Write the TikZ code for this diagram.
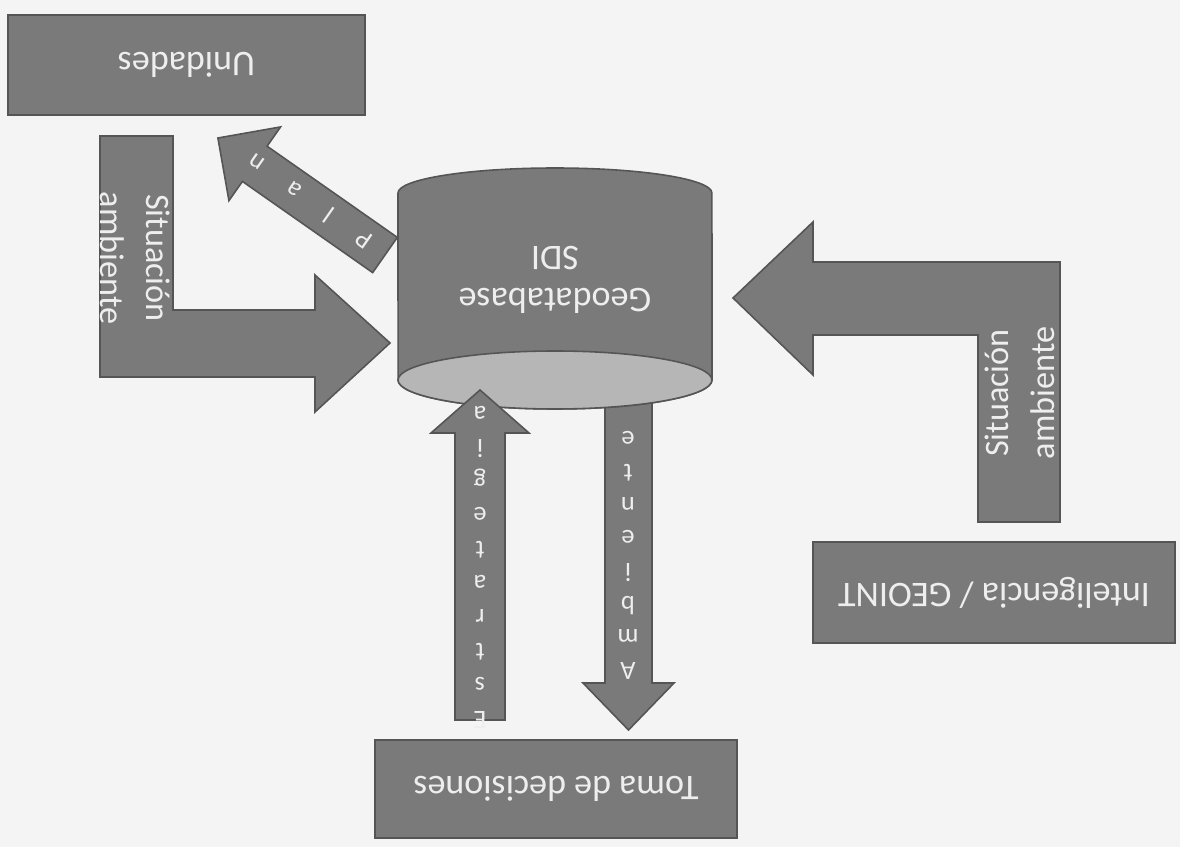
\documentclass[tikz,border=0pt]{standalone}
\usepackage{fontspec}
\setmainfont{Carlito}
\usepackage{xcolor}
\usetikzlibrary{calc}
\definecolor{paper}{HTML}{F4F4F4}
\definecolor{boxgray}{HTML}{7A7A7A}
\definecolor{edgegray}{HTML}{555555}
\definecolor{facegray}{HTML}{B6B6B6}
\definecolor{txtwhite}{HTML}{EEEEEE}

\begin{document}
\begin{tikzpicture}[x=0.02cm,y=0.02cm,
	  every node/.style={align=center,text=txtwhite,draw=none,inner sep=0pt},
	  box/.style={draw=edgegray,line width=0.9pt,fill=boxgray,rotate=180,font=\fontsize{20.5}{25}\selectfont},
	  flecha/.style={draw=edgegray,line width=0.9pt,fill=boxgray},
	  rotulo/.style={font=\fontsize{19.5}{26}\selectfont},
	  letras/.style={rotate=180,font=\fontsize{15}{19.3}\selectfont}]

	  % page
	  \fill[paper] (0,0) rectangle (1180,-847);
	  \useasboundingbox (0,0) rectangle (1180,-847);

	  % boxes
	  \node[box,minimum width=7.14cm,minimum height=2cm] (unidades) at (186.5,-65) {Unidades};
	  \node[box,minimum width=7.24cm,minimum height=1.96cm] (toma) at (556,-789) {Toma de decisiones};
	  \node[box,minimum width=7.24cm,minimum height=2.02cm] (intel) at (994,-592.5) {Inteligencia / GEOINT};

	  % bent arrows
	  \draw[flecha] (100,-136) -- (173,-136) -- (173,-310) -- (315,-310) -- (315,-275) -- (390,-343)
	    -- (315,-412) -- (315,-377) -- (100,-377) -- cycle;
	  \node[rotulo,rotate=-90] (sitizq) at (135,-258) {Situación\\ambiente};
	  \draw[flecha] (1060,-522) -- (978,-522) -- (978,-335) -- (813,-335) -- (813,-375) -- (733,-298)
	    -- (813,-222) -- (813,-262) -- (1060,-262) -- cycle;
	  \node[rotulo,rotate=90] (sitder) at (1020,-393) {Situación\\ambiente};

	  % Ambiente
	  \draw[flecha] (605,-400) -- (652,-400) -- (652,-683) -- (674,-683) -- (628.5,-730) -- (583,-683) -- (605,-683) -- cycle;

	  % Plan
	  \begin{scope}[shift={(385,-255)},rotate=145]
	    \draw[flecha] (0,-21.5) -- (159,-21.5) -- (159,-45) -- (204,0) -- (159,45) -- (159,21.5) -- (0,21.5) -- cycle;
	    \node[rotate=145,font=\fontsize{15}{18}\selectfont] (plan) at (92,0) {P\hspace{19pt}l\hspace{19pt}a\hspace{19pt}n};
	  \end{scope}

	  % SDI
	  \draw[flecha] (398,-193) arc[start angle=180,end angle=0,x radius=3.14cm,y radius=0.5cm]
	    -- (712,-380) arc[start angle=0,end angle=-180,x radius=3.14cm,y radius=0.58cm] -- cycle;
	  \draw[edgegray,line width=0.9pt,fill=facegray] (555,-380) ellipse [x radius=3.14cm,y radius=0.58cm];
	  \node[rotate=180,font=\fontsize{20.5}{24}\selectfont] (sdi) at (555,-280) {Geodatabase\\SDI};

	  % Estrategia
	  \draw[flecha] (455,-720) -- (505,-720) -- (505,-433) -- (529,-433) -- (480,-390) -- (431,-433) -- (455,-433) -- cycle;

	  \node[letras] (estrategia) at (480,-567) {E\\s\\t\\r\\a\\t\\e\\g\\i\\a};
	  \node[letras,font=\fontsize{15}{18.8}\selectfont] (ambiente) at (628,-555) {A\\m\\b\\i\\e\\n\\t\\e};

\end{tikzpicture}
\end{document}
